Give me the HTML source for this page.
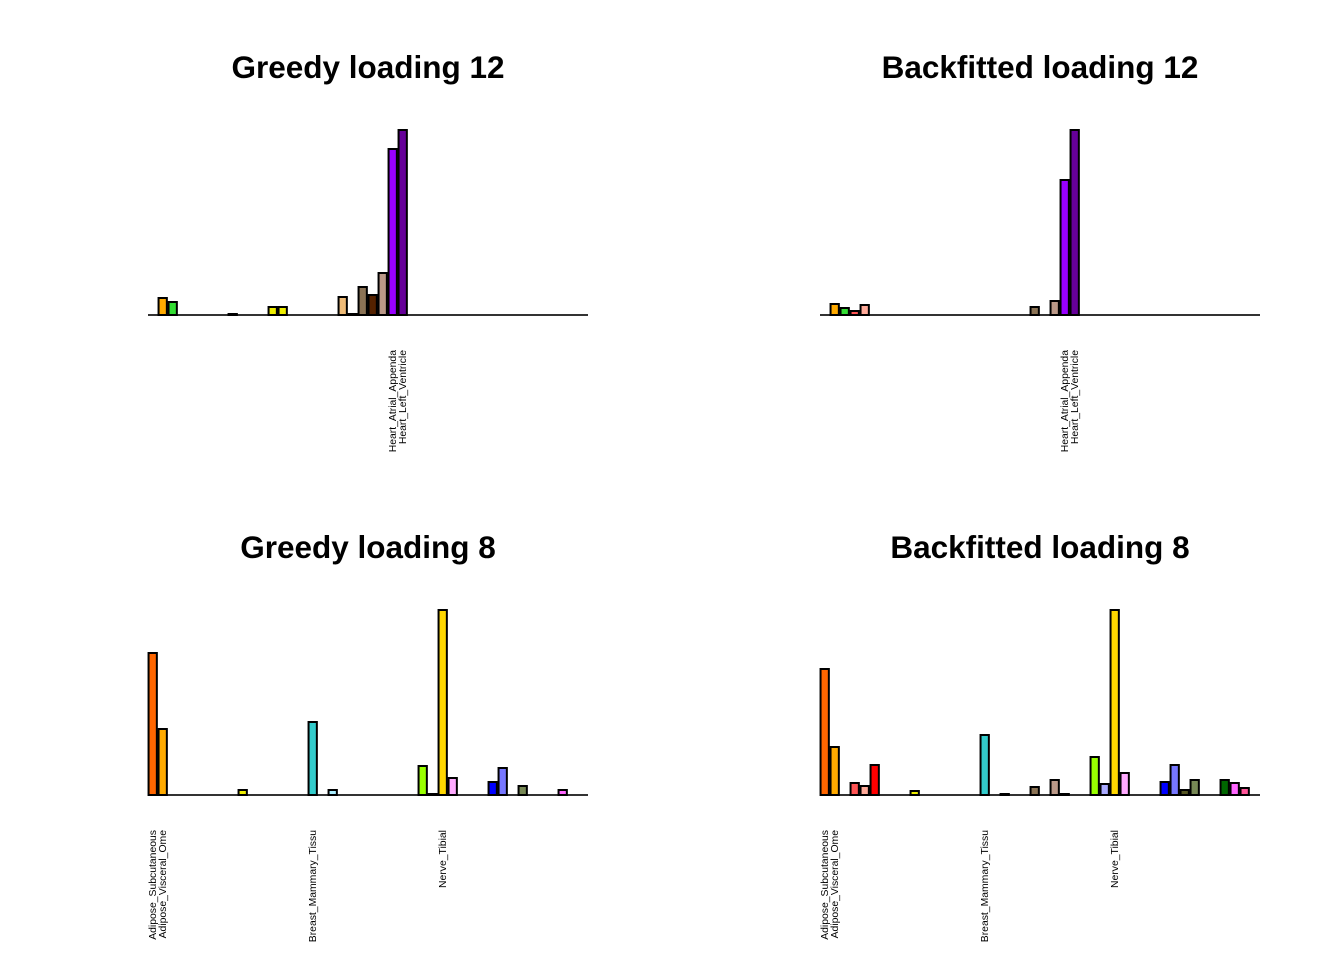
<!DOCTYPE html>
<html><head><meta charset="utf-8"><style>
html,body{margin:0;padding:0;background:#fff;}
svg{display:block;font-family:"Liberation Sans",Arial,sans-serif;}
</style></head><body>
<svg id="chart" width="1344" height="960" viewBox="0 0 1344 960"></svg>
<script>
const colors=["#FF6600","#FFAA00","#33DD33","#FF5555","#FFAA99","#FF0000","#EEEE00","#EEEE00","#EEEE00","#EEEE00","#EEEE00","#EEEE00","#EEEE00","#EEEE00","#EEEE00","#EEEE00","#33CCCC","#CC66FF","#AAEEFF","#EEBB77","#CC9955","#8B7355","#552200","#BB9988","#9900FF","#660099","#AABB66","#99FF00","#AAAAFF","#FFD700","#FFAAFF","#995522","#AAFF99","#DDDDDD","#0000FF","#7777FF","#555522","#778855","#FFDD99","#AAAAAA","#006600","#FF66FF","#FF5599","#FF00BB"];
const greedy12=[0,17,13,0,0,0,0,0,1,0,0,0,8,8,0,0,0,0,0,18,1,28,20,42,166,185,0,0,0,0,0,0,0,0,0,0,0,0,0,0,0,0,0,0];
const back12=[0,11,7,4,10,0,0,0,0,0,0,0,0,0,0,0,0,0,0,0,0,8,0,14,135,185,0,0,0,0,0,0,0,0,0,0,0,0,0,0,0,0,0,0];
const greedy8=[142,66,0,0,0,0,0,0,0,5,0,0,0,0,0,0,73,0,5,0,0,0,0,0,0,0,0,29,1,185,17,0,0,0,13,27,0,9,0,0,0,5,0,0];
const back8=[126,48,0,12,9,30,0,0,0,4,0,0,0,0,0,0,60,0,1,0,0,8,0,15,1,0,0,38,11,185,22,0,0,0,13,30,5,15,0,0,15,12,7,0];
const labels12=[[24,"Heart_Atrial_Appenda"],[25,"Heart_Left_Ventricle"]];
const labels8=[[0,"Adipose_Subcutaneous"],[1,"Adipose_Visceral_Ome"],[16,"Breast_Mammary_Tissu"],[29,"Nerve_Tibial"]];
const panels=[
 {title:"Greedy loading 12",vals:greedy12,labels:labels12,x0:148,base:315,ty:67,name:"greedy-12"},
 {title:"Backfitted loading 12",vals:back12,labels:labels12,x0:820,base:315,ty:67,name:"backfitted-12"},
 {title:"Greedy loading 8",vals:greedy8,labels:labels8,x0:148,base:795,ty:547,name:"greedy-8"},
 {title:"Backfitted loading 8",vals:back8,labels:labels8,x0:820,base:795,ty:547,name:"backfitted-8"}];
const svg=document.getElementById('chart');
const NS="http://www.w3.org/2000/svg";
function mk(t,a){const e=document.createElementNS(NS,t);for(const k in a)e.setAttribute(k,a[k]);return e;}
const slot=10,bw=8.3,ph=185;
panels.forEach(p=>{
 const g=mk('g',{});
 
 
 svg.appendChild(g);
 const t=mk('text',{x:p.x0+220,y:p.ty+11,'text-anchor':'middle','font-size':'31.5','font-weight':'bold'});
 t.textContent=p.title;
 
 
 g.appendChild(t);
 const mx=Math.max(...p.vals);
 const yScale=v=>v/mx*ph;
 const xScale=i=>p.x0+slot*i+(slot-bw)/2-0.3;
 const ax=mk('line',{x1:p.x0,x2:p.x0+slot*p.vals.length,y1:p.base,y2:p.base,stroke:'#333','stroke-width':'2'});
 
 
 g.appendChild(ax);
 p.vals.forEach((v,i)=>{
  const h=yScale(v);
  if(h<0.5)return;
  const r=mk('rect',{x:xScale(i),y:p.base-h,width:bw,height:h,fill:colors[i],stroke:'#000','stroke-width':'2'});
  
  
  g.appendChild(r);
 });
 p.labels.forEach(([i,s])=>{
  const cx=xScale(i)+bw/2+3.5, ty=p.base+35;
  const l=mk('text',{x:cx,y:ty,'font-size':'10.4','text-anchor':'end',transform:`rotate(-90 ${cx} ${ty})`});
  l.textContent=s;
  
  
  g.appendChild(l);
 });
});
</script>
</body></html>
